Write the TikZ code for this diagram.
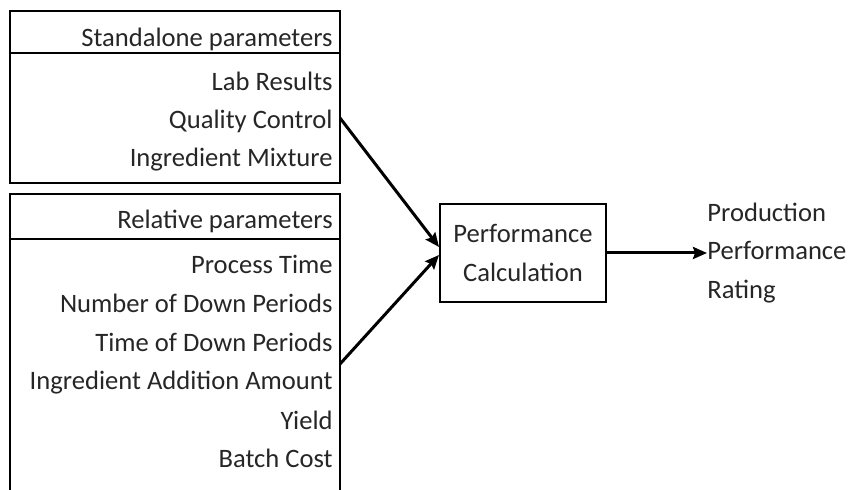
\documentclass[tikz,border=0pt]{standalone}
\usepackage{fontspec}
\setmainfont{Carlito}
\usetikzlibrary{arrows.meta,positioning,calc}
\tikzset{
  panel/.style={rectangle,draw=black,line width=1.2pt,
    minimum width=165pt,inner sep=0pt},
  divider/.style={draw=black,line width=0.8pt},
  item/.style={anchor=base east,inner sep=0pt,text=black!85,
    font=\fontsize{13.3}{19.4}\selectfont},
  procbox/.style={rectangle,draw=black,line width=1pt,align=center,
    minimum width=83pt,minimum height=49pt,text=black!85,
    font=\fontsize{13.3}{19.4}\selectfont},
  outtext/.style={anchor=west,align=left,inner sep=0pt,text=black!85,
    font=\fontsize{13.3}{19.4}\selectfont},
  arrow/.style={-{Stealth[length=7pt,width=6pt,inset=1pt]},line width=1.5pt}
}
\begin{document}
\begin{tikzpicture}[x=0.5pt,y=-0.5pt]
  \useasboundingbox (0,0) rectangle (850,490);
  \clip (0,0) rectangle (850,490);
  % standalone parameters
  \node[panel,minimum height=86pt] (stbox) at (175,97) {};
  \draw[divider] (stbox.west |- 0,53) -- (stbox.east |- 0,53);
  \node[item] (sthead) at (333,47) {Standalone parameters};
  \foreach \txt/\y/\nm in {Lab Results/91/lab,Quality Control/129/qc,
      Ingredient Mixture/167/mix}
    \node[item] (\nm) at (333,\y) {\txt};
  % relative parameters (runs off the bottom edge)
  \node[panel,minimum height=151pt] (rlbox) at (175,345) {};
  \draw[divider] (rlbox.west |- 0,239) -- (rlbox.east |- 0,239);
  \node[item] (rlhead) at (333,229) {Relative parameters};
  \foreach \txt/\y/\nm in {Process Time/274/ptime,
      Number of Down Periods/313/ndown,Time of Down Periods/352/tdown,
      Ingredient Addition Amount/390/addamt,Yield/430/yield,
      Batch Cost/468/bcost}
    \node[item] (\nm) at (333,\y) {\txt};
  % calculation and result
  \node[procbox] (calc) at (523,253) {Performance\\Calculation};
  \node[outtext] (rating) at (707,253) {Production\\Performance\\Rating};
  \coordinate (qcout) at (340,118);
  \coordinate (tdout) at (340,364);
  \draw[arrow] (qcout) -- ([yshift=3pt]calc.west);
  \draw[arrow] (tdout) -- ([yshift=-1pt]calc.west);
  \draw[arrow] (calc) -- (rating);
\end{tikzpicture}
\end{document}
